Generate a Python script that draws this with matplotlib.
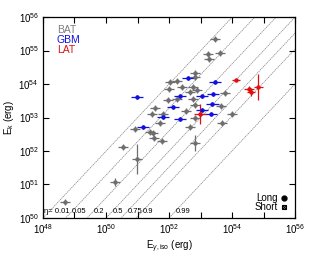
import numpy as np
import matplotlib
matplotlib.use('Agg')
import matplotlib.pyplot as plt

plt.rcParams['font.family'] = ['Liberation Sans', 'DejaVu Sans']
plt.rcParams['mathtext.fontset'] = 'custom'
plt.rcParams['mathtext.rm'] = 'Liberation Sans'
plt.rcParams['mathtext.it'] = 'Liberation Sans:italic'

# log10 values
bat_eg = [53.46, 53.24, 53.62, 53.27, 52.83, 52.83, 52.03, 52.25, 52.00, 52.41,
          52.76, 52.67, 52.89, 53.78, 51.97, 52.25, 52.76, 52.54, 52.83, 53.64,
          51.56, 51.46, 51.81, 51.71, 52.83, 54.00, 52.67, 53.68, 51.49, 51.78,
          51.52, 52.83, 50.92, 51.40, 50.54, 50.98, 50.29, 48.70]
bat_ek = [55.34, 54.90, 54.93, 54.75, 54.33, 54.21, 54.06, 54.09, 53.85, 53.91,
          53.91, 53.76, 53.82, 53.73, 53.52, 53.55, 53.55, 53.19, 53.37, 53.33,
          53.28, 53.10, 53.10, 52.84, 52.99, 53.10, 52.72, 52.84, 52.54, 52.30,
          52.39, 52.24, 52.66, 52.57, 52.12, 51.76, 51.07, 50.48]
bat_ex = [0.16] * len(bat_eg)
bat_ey = [0.09] * 31 + [0.25, 0.09, 0.09, 0.09, 0.45, 0.12, 0.1]

gbm_eg = [50.98, 52.60, 53.46, 52.35, 53.05, 53.40, 52.13, 53.37, 51.81, 52.35,
          53.33, 51.17, 53.05]
gbm_ek = [53.61, 54.18, 54.06, 53.64, 53.64, 53.70, 53.31, 53.40, 53.01, 52.96,
          53.10, 52.72, 53.22]
gbm_ex = [0.2] * len(gbm_eg)
gbm_ey = [0.05] * len(gbm_eg)

lat_eg = [54.13, 54.54, 54.60, 54.83, 52.98]
lat_ek = [54.12, 53.85, 53.76, 53.91, 53.10]
lat_ex = [0.12, 0.15, 0.12, 0.15, 0.2]
lat_ey = [0.04, 0.1, 0.12, 0.4, 0.3]

etas = [0.01, 0.05, 0.2, 0.5, 0.75, 0.9, 0.99]
eta_labels = ['η= 0.01', '0.05', '0.2', '0.5', '0.75', '0.9', '0.99']


def plot_set(ax, lx, ly, ex, ey, color):
    lx = np.array(lx)
    ly = np.array(ly)
    ex = np.array(ex)
    ey = np.array(ey)
    x = 10 ** lx
    y = 10 ** ly
    xerr = [x - 10 ** (lx - ex), 10 ** (lx + ex) - x]
    yerr = [y - 10 ** (ly - ey), 10 ** (ly + ey) - y]
    ax.errorbar(x, y, xerr=xerr, yerr=yerr, fmt='o', ms=2.2, color=color,
                ecolor=color, elinewidth=0.9, capsize=0, zorder=3)


fig = plt.figure(figsize=(3.16, 2.62), dpi=100)
ax = fig.add_axes([0.136, 0.168, 0.798, 0.767])
ax.set_xscale('log')
ax.set_yscale('log')

xx = np.logspace(47, 57, 50)
for eta in etas:
    ax.plot(xx, xx * (1 - eta) / eta, color='gray', lw=0.5,
            dashes=(2, 1), zorder=1)

plot_set(ax, bat_eg, bat_ek, bat_ex, bat_ey, '#6e6e6e')
plot_set(ax, gbm_eg, gbm_ek, gbm_ex, gbm_ey, '#1010e0')
plot_set(ax, lat_eg, lat_ek, lat_ex, lat_ey, '#e01010')

# eta labels near the bottom, just right of each line
for eta, lab in zip(etas, eta_labels):
    x0 = 1.6e50 * eta / (1 - eta)
    if lab.startswith('η'):
        x0 = 1.1e48
    ax.text(x0, 1.25e50, lab, fontsize=5.5, ha='left', va='bottom')

ax.set_xlim(1e48, 1e56)
ax.set_ylim(1e50, 1e56)
ax.set_xticks([10.0 ** k for k in range(48, 57)])
ax.set_xticklabels(['$10^{%d}$' % k if k % 2 == 0 else '' for k in range(48, 57)])
ax.set_yticks([10.0 ** k for k in range(50, 57)])
ax.set_yticklabels(['$10^{%d}$' % k for k in range(50, 57)])
ax.minorticks_off()
ax.tick_params(which='both', direction='in', top=True, right=True,
               length=4, width=0.8, labelsize=7, pad=3)
for s in ax.spines.values():
    s.set_linewidth(0.9)

ax.set_xlabel(r'E$_{\gamma,\rm iso}$ (erg)', fontsize=7, labelpad=2)
ax.set_ylabel(r'E$_{\rm k}$ (erg)', fontsize=7, labelpad=2)

ax.text(0.055, 0.92, 'BAT', color='#808080', fontsize=7.5, transform=ax.transAxes)
ax.text(0.055, 0.87, 'GBM', color='#1010e0', fontsize=7.5, transform=ax.transAxes)
ax.text(0.055, 0.82, 'LAT', color='#e01010', fontsize=7.5, transform=ax.transAxes)

ax.text(0.93, 0.10, 'Long', fontsize=7, ha='right', va='center', transform=ax.transAxes)
ax.text(0.93, 0.055, 'Short', fontsize=7, ha='right', va='center', transform=ax.transAxes)
ax.plot([0.955], [0.10], 'o', color='k', ms=3.5, transform=ax.transAxes, clip_on=False)
ax.plot([0.955], [0.055], 's', mfc='none', mec='k', ms=3.5, mew=0.8,
        transform=ax.transAxes, clip_on=False)
ax.plot([0.955], [0.055], 'x', color='k', ms=3, mew=0.8,
        transform=ax.transAxes, clip_on=False)

fig.savefig('out.png', dpi=100)
